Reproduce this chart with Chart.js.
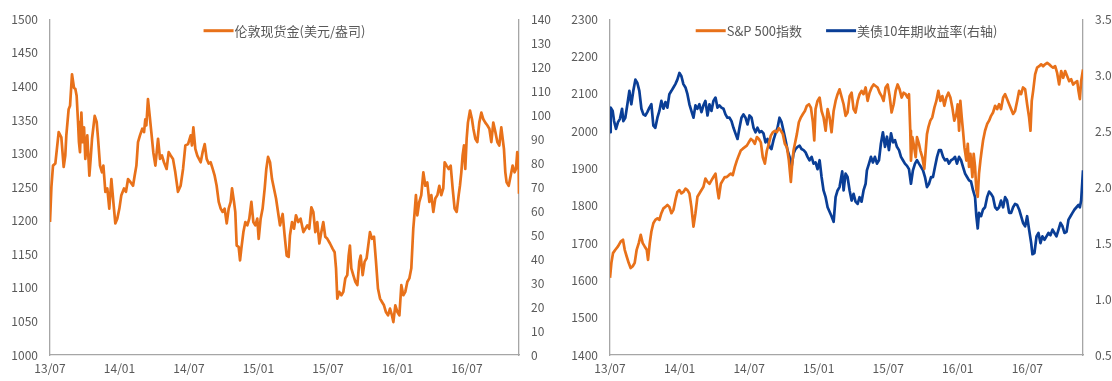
<!DOCTYPE html>
<html>
<head>
<meta charset="utf-8">
<script src="https://cdn.jsdelivr.net/npm/chart.js@4.4.1/dist/chart.umd.min.js"></script>
<style>
  html, body { margin: 0; padding: 0; background: #ffffff; }
  #wrap { position: relative; width: 1112px; height: 381px; overflow: hidden; }
  canvas { position: absolute; top: 0; }
  #goldCanvas { left: 0; }
  #spCanvas { left: 556px; }
</style>
</head>
<body>
<div id="wrap">
  <canvas id="goldCanvas" width="556" height="381"></canvas>
  <canvas id="spCanvas" width="556" height="381"></canvas>
</div>
<script>
// Time axis: months elapsed since July 2013
const tickMonths = [0, 6, 12, 18, 24, 30, 36];
const tickLabels = ['13/07', '14/01', '14/07', '15/01', '15/07', '16/01', '16/07'];

// London spot gold, USD/oz
const goldMonths = [
  0.00,0.12,0.26,0.46,0.75,0.98,1.18,1.32,1.41,1.61,1.73,1.90,2.07,2.19,2.30,2.42,2.50,2.59,2.71,2.82,
  2.94,3.05,3.22,3.40,3.51,3.63,3.86,4.03,4.15,4.32,4.49,4.61,4.78,4.95,5.12,5.30,5.47,5.64,5.81,5.99,
  6.16,6.39,6.56,6.74,6.97,7.17,7.31,7.46,7.60,7.77,7.97,8.12,8.23,8.32,8.46,8.61,8.75,8.92,9.10,9.33,
  9.50,9.67,9.84,10.07,10.25,10.42,10.62,10.82,11.05,11.28,11.49,11.69,11.92,12.15,12.26,12.38,12.55,12.72,13.01,13.18,
  13.36,13.53,13.70,13.87,14.05,14.22,14.39,14.57,14.74,14.91,15.08,15.26,15.43,15.60,15.72,15.89,16.00,16.12,16.29,16.41,
  16.52,16.70,16.87,17.04,17.21,17.39,17.56,17.73,17.90,18.02,18.19,18.36,18.54,18.68,18.83,19.00,19.17,19.34,19.52,19.69,
  19.86,20.09,20.26,20.44,20.61,20.72,20.90,21.07,21.24,21.44,21.64,21.88,22.05,22.22,22.39,22.57,22.74,22.91,23.08,23.26,
  23.43,23.60,23.77,23.95,24.18,24.41,24.58,24.70,24.81,24.98,25.16,25.33,25.50,25.67,25.79,25.90,26.02,26.19,26.37,26.54,
  26.71,26.83,27.00,27.17,27.34,27.52,27.63,27.81,27.98,28.15,28.32,28.50,28.67,28.84,29.01,29.19,29.36,29.53,29.65,29.82,
  30.00,30.17,30.34,30.51,30.68,30.86,31.03,31.20,31.37,31.49,31.60,31.72,31.89,32.06,32.24,32.41,32.58,32.76,32.93,33.10,
  33.27,33.45,33.62,33.79,33.96,34.08,34.25,34.43,34.60,34.77,34.94,35.12,35.29,35.40,35.52,35.63,35.75,35.86,35.98,36.09,
  36.27,36.44,36.56,36.73,36.90,37.07,37.25,37.42,37.59,37.76,37.94,38.11,38.28,38.46,38.63,38.80,38.97,39.09,39.20,39.32,
  39.43,39.61,39.78,39.95,40.12,40.24,40.35,40.47,40.50
];
const goldPrice = [
  1198,1250,1282,1285,1332,1324,1280,1297,1327,1366,1371,1418,1398,1396,1386,1347,1317,1302,1361,1317,
  1339,1292,1327,1267,1292,1322,1356,1347,1322,1282,1272,1282,1243,1248,1218,1262,1228,1196,1203,1218,
  1238,1248,1243,1262,1257,1252,1267,1282,1317,1327,1337,1332,1351,1342,1381,1356,1332,1302,1282,1322,
  1292,1297,1287,1277,1302,1297,1292,1272,1243,1252,1277,1312,1314,1327,1312,1339,1307,1297,1287,1302,
  1314,1292,1285,1287,1277,1267,1252,1228,1218,1213,1218,1196,1218,1228,1248,1228,1213,1163,1161,1141,
  1158,1183,1198,1193,1203,1228,1198,1193,1203,1173,1203,1218,1248,1277,1295,1287,1262,1248,1233,1213,
  1193,1210,1178,1148,1146,1178,1198,1188,1208,1198,1203,1183,1188,1193,1188,1220,1213,1183,1198,1166,
  1183,1198,1176,1173,1166,1158,1153,1129,1084,1094,1089,1094,1114,1119,1148,1163,1129,1119,1109,1104,
  1139,1148,1119,1139,1144,1168,1183,1173,1176,1139,1099,1084,1079,1074,1064,1059,1069,1059,1049,1074,
  1064,1059,1104,1089,1094,1109,1114,1129,1188,1213,1238,1208,1228,1238,1272,1252,1257,1228,1238,1213,
  1233,1238,1252,1238,1248,1287,1282,1277,1282,1248,1218,1213,1238,1252,1272,1297,1312,1277,1322,1346,
  1364,1351,1337,1322,1317,1346,1361,1351,1346,1342,1337,1317,1346,1332,1317,1312,1339,1322,1307,1272,
  1257,1252,1267,1282,1272,1277,1302,1282,1240
];

// S&P 500 index
const spMonths = [
  0.00,0.12,0.26,0.46,0.69,0.92,1.12,1.27,1.44,1.61,1.78,1.96,2.13,2.30,2.48,2.65,2.82,2.99,3.17,3.28,
  3.43,3.57,3.74,3.91,4.09,4.26,4.43,4.61,4.78,4.95,5.12,5.30,5.47,5.64,5.81,5.99,6.16,6.33,6.51,6.68,
  6.85,7.02,7.20,7.37,7.54,7.71,7.89,8.06,8.23,8.41,8.58,8.75,8.92,9.10,9.27,9.38,9.56,9.73,9.90,10.07,
  10.25,10.42,10.59,10.77,10.94,11.11,11.28,11.46,11.63,11.80,11.97,12.15,12.32,12.49,12.67,12.84,13.01,13.18,13.36,13.53,
  13.70,13.87,14.05,14.22,14.39,14.57,14.74,14.91,15.08,15.26,15.43,15.60,15.72,15.83,15.95,16.12,16.29,16.47,16.64,16.81,
  16.98,17.16,17.33,17.50,17.62,17.73,17.90,18.08,18.25,18.42,18.60,18.77,18.94,19.11,19.29,19.46,19.63,19.80,
  20.15,20.32,20.49,20.67,20.84,21.01,21.18,21.36,21.53,21.70,21.87,22.05,22.22,22.39,22.57,22.74,22.91,23.08,23.26,23.43,
  23.60,23.77,23.95,24.12,24.29,24.47,24.64,24.81,24.98,25.16,25.33,25.50,25.67,25.79,25.90,25.96,26.08,26.19,26.37,26.48,
  26.65,26.77,26.94,27.11,27.23,27.34,27.46,27.63,27.80,27.98,28.15,28.32,28.50,28.67,28.84,29.01,29.19,29.36,29.53,29.70,
  29.88,29.99,30.11,30.22,30.34,30.45,30.57,30.74,30.86,30.97,31.09,31.26,31.37,31.49,31.60,31.72,31.83,31.95,32.06,32.18,
  32.35,32.53,32.70,32.87,33.04,33.22,33.39,33.56,33.73,33.91,34.08,34.25,34.43,34.60,34.77,34.94,35.12,35.29,35.46,35.63,
  35.81,35.98,36.15,36.27,36.38,36.50,36.67,36.84,37.02,37.19,37.36,37.53,37.71,37.88,38.05,38.22,38.40,38.57,38.74,38.92,
  39.09,39.26,39.43,39.61,39.78,39.95,40.12,40.30,40.41,40.53,40.64,40.80
];
const spIndex = [
  1607,1647,1673,1682,1691,1704,1709,1682,1664,1647,1633,1638,1647,1682,1700,1722,1700,1691,1682,1655,
  1700,1731,1753,1762,1766,1762,1780,1793,1797,1802,1797,1780,1789,1815,1837,1842,1833,1837,1846,1842,
  1833,1797,1744,1780,1824,1833,1842,1851,1873,1864,1859,1868,1877,1886,1842,1820,1859,1868,1877,1877,
  1882,1886,1882,1904,1921,1935,1948,1953,1957,1961,1970,1979,1975,1966,1984,1979,1970,1930,1913,1948,
  1966,1988,1997,2001,1997,2008,2001,1992,1966,1957,1921,1864,1913,1948,1966,1992,2024,2037,2046,2054,
  2068,2072,2063,2024,1975,2059,2081,2090,2054,2037,2001,2059,2037,1997,2054,2081,2099,2112,
  2072,2041,2050,2094,2103,2059,2050,2081,2099,2108,2099,2117,2081,2103,2117,2125,2121,2117,2103,2094,
  2081,2117,2125,2094,2050,2072,2108,2125,2112,2090,2103,2099,2090,2099,2001,1921,1984,1966,1930,1984,
  1966,1948,1930,1899,1948,1992,2010,2028,2037,2063,2081,2108,2081,2094,2068,2090,2103,2090,2063,2028,
  2046,2072,2001,2081,2037,2001,1957,1921,1966,1904,1939,1877,1939,1904,1842,1824,1886,1921,1948,1975,
  2001,2019,2028,2041,2050,2068,2059,2072,2059,2090,2099,2086,2072,2059,2046,2054,2081,2108,2099,2117,
  2112,2072,2037,2001,2081,2108,2152,2170,2174,2179,2174,2179,2183,2179,2174,2170,2174,2156,2125,2161,
  2143,2161,2148,2134,2139,2125,2130,2134,2108,2086,2134,2165
];

// US 10-year Treasury yield, %
const ustMonths = [
  0.00,0.06,0.23,0.35,0.52,0.69,0.86,1.04,1.15,1.32,1.50,1.67,1.84,2.01,2.19,2.36,2.53,2.71,2.88,3.05,
  3.22,3.40,3.57,3.74,3.91,4.09,4.26,4.43,4.61,4.78,4.95,5.12,5.30,5.47,5.64,5.81,5.99,6.16,6.33,6.51,
  6.68,6.85,7.02,7.20,7.37,7.54,7.71,7.89,8.06,8.23,8.41,8.58,8.75,8.92,9.10,9.27,9.44,9.61,9.79,9.96,
  10.13,10.31,10.48,10.65,10.82,11.00,11.17,11.34,11.51,11.69,11.86,12.03,12.21,12.38,12.55,12.72,12.90,13.07,13.24,13.41,
  13.59,13.76,13.93,14.10,14.28,14.45,14.62,14.80,14.97,15.14,15.31,15.49,15.66,15.83,16.00,16.18,16.35,16.52,16.70,16.87,
  17.04,17.21,17.39,17.56,17.73,17.90,18.08,18.25,18.42,18.60,18.77,18.94,19.11,19.29,19.46,19.63,19.80,
  20.03,20.15,20.32,20.49,20.67,20.84,21.01,21.18,21.36,21.53,21.70,21.87,22.05,22.16,22.34,22.51,22.68,22.85,23.03,23.20,
  23.37,23.54,23.72,23.89,24.06,24.24,24.41,24.58,24.75,24.93,25.10,25.27,25.44,25.62,25.79,25.96,26.13,26.31,26.48,26.65,
  26.83,27.00,27.17,27.34,27.52,27.69,27.86,28.03,28.21,28.38,28.55,28.73,28.90,29.07,29.24,29.42,29.59,29.76,29.93,30.11,
  30.28,30.45,30.63,30.80,30.97,31.14,31.32,31.49,31.60,31.72,31.83,32.01,32.18,32.35,32.53,32.70,32.87,33.04,33.22,33.39,
  33.56,33.73,33.91,34.08,34.25,34.43,34.60,34.77,34.94,35.12,35.29,35.46,35.63,35.81,35.98,36.15,36.33,36.44,36.61,36.79,
  36.96,37.13,37.30,37.48,37.65,37.82,37.99,38.17,38.34,38.51,38.69,38.86,39.03,39.20,39.38,39.55,39.72,39.89,40.07,40.24,
  40.41,40.53,40.64,40.80
];
const ustYield = [
  2.49,2.71,2.68,2.59,2.52,2.58,2.61,2.70,2.59,2.62,2.74,2.86,2.74,2.86,2.96,2.93,2.86,2.70,2.65,2.64,
  2.67,2.71,2.74,2.55,2.53,2.62,2.68,2.77,2.70,2.76,2.71,2.83,2.86,2.89,2.92,2.96,3.02,2.99,2.92,2.89,
  2.83,2.74,2.68,2.62,2.73,2.70,2.74,2.67,2.73,2.77,2.64,2.74,2.68,2.77,2.80,2.71,2.73,2.71,2.70,2.65,
  2.62,2.62,2.59,2.53,2.48,2.43,2.53,2.62,2.65,2.62,2.56,2.64,2.62,2.53,2.49,2.53,2.49,2.50,2.48,2.40,
  2.43,2.36,2.34,2.42,2.48,2.53,2.62,2.58,2.50,2.42,2.33,2.27,2.18,2.30,2.34,2.36,2.37,2.34,2.33,2.31,
  2.27,2.24,2.27,2.21,2.22,2.16,2.24,2.09,1.97,1.91,1.82,1.78,1.74,1.69,1.91,1.97,2.00,
  2.14,1.97,2.12,2.09,1.97,1.88,1.94,1.87,1.85,1.91,1.87,1.97,2.03,2.15,2.21,2.27,2.22,2.27,2.21,2.24,
  2.39,2.49,2.36,2.45,2.33,2.48,2.40,2.42,2.36,2.33,2.27,2.24,2.21,2.19,2.16,2.03,2.15,2.21,2.24,2.21,
  2.18,2.15,2.09,2.00,2.03,2.09,2.09,2.18,2.27,2.33,2.33,2.27,2.24,2.25,2.21,2.24,2.25,2.27,2.21,2.27,
  2.24,2.18,2.12,2.09,2.06,2.05,1.97,1.91,1.74,1.63,1.77,1.74,1.80,1.82,1.91,1.96,1.94,1.91,1.82,1.80,
  1.82,1.88,1.82,1.91,1.88,1.77,1.77,1.82,1.85,1.84,1.80,1.74,1.68,1.65,1.74,1.62,1.50,1.40,1.41,1.56,
  1.59,1.50,1.56,1.53,1.56,1.59,1.57,1.62,1.59,1.56,1.62,1.68,1.65,1.59,1.60,1.71,1.74,1.77,1.80,1.82,
  1.84,1.82,1.88,2.15
];

const ORANGE = '#E8711A';
const BLUE = '#0A3E96';
const TEXT = '#595959';
const AXIS = '#A6A6A6';
const FONT = '"Noto Sans CJK SC", "Noto Sans", sans-serif';

const toPoints = (xs, ys) => xs.map((x, i) => ({ x: x, y: ys[i] }));

// Legend drawn inside the plot, centred along its top edge
const insideLegend = {
  id: 'insideLegend',
  afterDraw(chart) {
    const { ctx, chartArea } = chart;
    const items = chart.data.datasets.map(d => ({ label: d.label, color: d.borderColor }));
    const seg = 30, gap = 24;
    ctx.save();
    ctx.font = '13px ' + FONT;
    const widths = items.map(it => seg + 1 + ctx.measureText(it.label).width);
    const total = widths.reduce((a, b) => a + b, 0) + gap * (items.length - 1);
    let x = (chartArea.left + chartArea.right) / 2 - total / 2;
    const y = chartArea.top + 11.5;
    items.forEach((it, i) => {
      ctx.strokeStyle = it.color;
      ctx.lineWidth = 3;
      ctx.beginPath();
      ctx.moveTo(x, y);
      ctx.lineTo(x + seg, y);
      ctx.stroke();
      ctx.fillStyle = TEXT;
      ctx.textBaseline = 'middle';
      ctx.textAlign = 'left';
      ctx.fillText(it.label, x + seg + 1, y + 0.5);
      x += widths[i] + gap;
    });
    ctx.restore();
  }
};

function timeAxis(maxMonth) {
  return {
    type: 'linear',
    min: 0,
    max: maxMonth,
    afterBuildTicks: s => { s.ticks = tickMonths.map(v => ({ value: v })); },
    afterFit: s => { s.height = 26; },
    grid: { display: true, color: 'transparent', drawTicks: false },
    border: { display: true, color: AXIS, width: 1.3 },
    ticks: {
      autoSkip: false, maxRotation: 0, padding: 6,
      color: TEXT, font: { family: FONT, size: 12 },
      callback: v => tickLabels[tickMonths.indexOf(v)]
    }
  };
}

function valueAxis(position, min, max, step, width, decimals) {
  return {
    type: 'linear',
    position: position,
    min: min,
    max: max,
    afterBuildTicks: s => {
      const t = [];
      for (let v = min; v <= max + 1e-9; v += step) t.push({ value: +v.toFixed(4) });
      s.ticks = t;
    },
    afterFit: s => { s.width = width; },
    grid: { display: true, color: 'transparent', drawTicks: false },
    border: { display: true, color: AXIS, width: 1.3 },
    ticks: {
      padding: 12,
      color: TEXT, font: { family: FONT, size: 12 },
      callback: v => decimals ? Number(v).toFixed(decimals) : String(v)
    }
  };
}

const commonLine = { borderWidth: 2.7, pointRadius: 0, tension: 0, fill: false, borderJoinStyle: 'round' };

new Chart(document.getElementById('goldCanvas'), {
  type: 'line',
  data: {
    datasets: [{
      label: '伦敦现货金(美元/盎司)',
      data: toPoints(goldMonths, goldPrice),
      borderColor: ORANGE,
      yAxisID: 'y',
      ...commonLine
    }]
  },
  options: {
    responsive: false,
    devicePixelRatio: 1,
    animation: false,
    layout: { padding: { top: 18, left: 0, right: 0, bottom: 0 } },
    plugins: { legend: { display: false }, tooltip: { enabled: false } },
    scales: {
      x: timeAxis(40.5),
      y: valueAxis('left', 1000, 1500, 50, 50, 0),
      y2: valueAxis('right', 0, 140, 10, 37, 0)
    }
  },
  plugins: [insideLegend]
});

new Chart(document.getElementById('spCanvas'), {
  type: 'line',
  data: {
    datasets: [{
      label: 'S&P 500指数',
      data: toPoints(spMonths, spIndex),
      borderColor: ORANGE,
      yAxisID: 'y',
      ...commonLine
    }, {
      label: '美债10年期收益率(右轴)',
      data: toPoints(ustMonths, ustYield),
      borderColor: BLUE,
      yAxisID: 'y2',
      ...commonLine
    }]
  },
  options: {
    responsive: false,
    devicePixelRatio: 1,
    animation: false,
    layout: { padding: { top: 18, left: 0, right: 0, bottom: 0 } },
    plugins: { legend: { display: false }, tooltip: { enabled: false } },
    scales: {
      x: timeAxis(40.8),
      y: valueAxis('left', 1400, 2300, 100, 54, 0),
      y2: valueAxis('right', 0.5, 3.5, 0.5, 29, 1)
    }
  },
  plugins: [insideLegend]
});
</script>
</body>
</html>
